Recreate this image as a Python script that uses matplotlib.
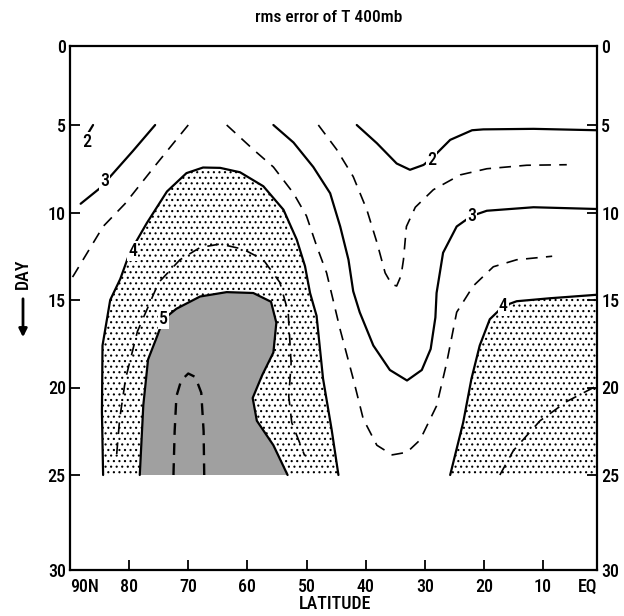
import numpy as np
import matplotlib
matplotlib.use("Agg")
import matplotlib.pyplot as plt

plt.rcParams["font.family"] = ["Roboto Condensed", "DejaVu Sans"]
plt.rcParams["font.weight"] = "medium"
plt.rcParams["hatch.linewidth"] = 0.8

# ---------------- data: isolines (lat in deg N, day) -------------
# solid isolines (integer values)
c2w_lat = [86.1, 86.9]
c2w_day = [5.0, 5.45]
c3w_lat = [75.6, 79.4, 83.2, 84.9, 88.2]
c3w_day = [5.0, 6.5, 7.95, 8.6, 9.5]
c4w_lat = [84.4, 84.6, 84.5, 83.2, 81.5, 79.9, 77.0, 73.6, 70.3, 67.5, 64.6, 61.25,
           57.3, 53.9, 51.65, 50.25, 49.4, 48.3, 47.2, 45.75, 44.6]
c4w_day = [25.0, 21.4, 17.6, 15.0, 13.8, 12.3, 10.6, 8.8, 7.75, 7.43, 7.45, 7.7,
           8.5, 9.84, 11.55, 13.07, 14.6, 15.9, 19.5, 22.4, 25.0]
c5_lat = [78.2, 77.6, 76.8, 75.3, 74.2, 72.0, 68.0, 63.5, 59.0, 56.0, 55.1, 55.6,
          57.5, 59.1, 58.4, 55.6, 53.2]
c5_day = [25.0, 21.0, 18.4, 17.1, 16.1, 15.5, 14.8, 14.55, 14.6, 15.1, 16.3, 18.0,
          19.3, 20.6, 21.9, 23.3, 25.0]
c3e_lat = [55.6, 52.2, 48.85, 46.0, 44.3, 42.9, 42.1, 41.0, 38.7, 35.9, 33.0, 30.5,
           29.0, 28.2, 28.0, 26.9, 24.6, 22.1, 19.5, 11.6, 0.0]
c3e_day = [5.0, 6.0, 7.4, 8.9, 10.8, 12.7, 14.5, 15.7, 17.6, 19.0, 19.6, 19.0,
           17.8, 16.0, 14.6, 12.3, 10.8, 10.2, 9.9, 9.7, 9.8]
c2e_lat = [41.5, 38.1, 34.75, 32.5, 30.2, 28.8, 25.7, 22.0, 20.1, 11.6, 0.0]
c2e_day = [5.0, 6.04, 7.2, 7.56, 7.28, 6.9, 5.85, 5.3, 5.25, 5.22, 5.3]
c4e_lat = [25.7, 23.5, 22.1, 20.7, 19.0, 16.7, 14.45, 8.7, 0.0]
c4e_day = [25.0, 22.0, 19.5, 17.6, 16.1, 15.35, 15.07, 14.9, 14.7]

# dashed isolines (half values)
d35w_lat = [70.0, 75.3, 80.7, 84.4, 89.4, 90.0]
d35w_day = [5.0, 7.2, 9.5, 10.8, 13.6, 13.9]
d35e_lat = [63.5, 59.0, 55.6, 52.2, 50.0, 48.3, 46.6, 45.5, 44.3, 42.1, 40.4, 38.1,
            35.5, 33.0, 30.8, 28.0, 26.3, 24.6, 21.8, 18.4, 14.45, 8.3]
d35e_day = [5.0, 6.4, 7.4, 8.9, 10.2, 11.9, 13.45, 15.0, 16.7, 19.5, 21.8, 23.3,
            23.85, 23.7, 23.0, 21.05, 18.6, 15.7, 14.2, 13.1, 12.7, 12.5]
d45w_lat = [82.1, 81.6, 80.6, 78.6, 75.0, 71.4, 68.0, 64.6, 60.7, 57.3, 54.5, 53.1,
            52.6, 53.0, 52.5, 50.3]
d45w_day = [23.8, 21.8, 19.5, 16.8, 14.0, 12.7, 12.0, 11.8, 12.1, 12.7, 14.0, 15.7,
            18.6, 20.5, 22.0, 23.9]
d55_lat = [72.5, 72.3, 72.0, 71.2, 70.0, 68.8, 67.8, 67.4, 67.3]
d55_day = [25.0, 22.5, 20.5, 19.6, 19.2, 19.4, 20.3, 22.5, 25.0]
d25_lat = [48.0, 44.9, 42.1, 39.8, 38.1, 36.7, 35.6, 34.75, 34.0, 33.6, 33.1, 31.6,
           28.55, 24.0, 19.5, 12.75, 5.6]
d25_day = [5.0, 6.4, 7.95, 9.84, 11.7, 13.45, 14.1, 14.2, 13.6, 12.7, 10.8, 9.7,
           8.7, 7.85, 7.5, 7.3, 7.27]
d45e_lat = [17.3, 15.0, 10.5, 5.6, 0.0]
d45e_day = [25.0, 23.6, 21.9, 20.8, 19.9]

# isoline labels
label_text = ["2", "3", "4", "5", "2", "3", "4"]
label_lat = [87.1, 84.2, 79.4, 74.2, 28.8, 22.1, 16.7]
label_day = [5.95, 8.2, 12.2, 16.1, 7.0, 10.2, 15.35]

END_DAY = 25.0
EQ_LAT = 0.0

lat_ticks = [90, 80, 70, 60, 50, 40, 30, 20, 10, 0]
lat_ticklabels = ["90N", "80", "70", "60", "50", "40", "30", "20", "10", "EQ"]
day_ticks = [0, 5, 10, 15, 20, 25, 30]

# ---------------- axis scales (follow the drawn axes of the original) ----------------
LAT_KNOTS = [0.0, 10.0, 90.0]
LAT_POS = [597.0, 543.0, 70.0]
DAY_KNOTS = [0.0, 5.0, 25.0, 30.0]
DAY_POS = [46.0, 125.0, 475.0, 570.0]


def lat_fwd(v):
    return -np.interp(np.asarray(v, float), LAT_KNOTS, LAT_POS)


def lat_inv(p):
    return np.interp(-np.asarray(p, float), LAT_POS[::-1], LAT_KNOTS[::-1])


def day_fwd(v):
    return np.interp(np.asarray(v, float), DAY_KNOTS, DAY_POS)


def day_inv(p):
    return np.interp(np.asarray(p, float), DAY_POS, DAY_KNOTS)


W, H = 624, 616
fig = plt.figure(figsize=(W / 100, H / 100), dpi=100)
ax = fig.add_axes([70 / W, 1 - 570 / H, (597 - 70) / W, (570 - 46) / H])
ax.set_xscale("function", functions=(lat_fwd, lat_inv))
ax.set_yscale("function", functions=(day_fwd, day_inv))
ax.set_xlim(90, 0)
ax.set_ylim(30, 0)

# ---------------- shading ----------------
ax.fill(c4w_lat, c4w_day, facecolor="none", edgecolor="black", linewidth=0,
        hatch="...", zorder=1)
ax.fill(np.append(c4e_lat, [EQ_LAT]), np.append(c4e_day, [END_DAY]),
        facecolor="none", edgecolor="black", linewidth=0, hatch="...", zorder=1)
ax.fill(c5_lat, c5_day, facecolor="#a0a0a0", edgecolor="none", zorder=2)

# ---------------- isolines ----------------
solid = dict(color="black", lw=1.6, solid_joinstyle="round", solid_capstyle="round", zorder=3)
dashed = dict(color="black", lw=1.2, dashes=(7, 5), zorder=3)
for la, da in [(c2w_lat, c2w_day), (c3w_lat, c3w_day), (c4w_lat, c4w_day),
               (c5_lat, c5_day), (c3e_lat, c3e_day), (c2e_lat, c2e_day),
               (c4e_lat, c4e_day)]:
    ax.plot(la, da, **solid)
for la, da in [(d35w_lat, d35w_day), (d35e_lat, d35e_day), (d45w_lat, d45w_day),
               (d25_lat, d25_day), (d45e_lat, d45e_day)]:
    ax.plot(la, da, **dashed)
ax.plot(d55_lat, d55_day, color="black", lw=1.7, dashes=(5, 3.5), zorder=3)

for t, la, da in zip(label_text, label_lat, label_day):
    ax.text(la, da, t, ha="center", va="center", fontsize=13, zorder=4,
            bbox=dict(boxstyle="square,pad=0.05", facecolor="white", edgecolor="none"))

# ---------------- axes decoration ----------------
for s in ax.spines.values():
    s.set_linewidth(1.6)
ax.set_xticks(lat_ticks)
ax.set_xticklabels(lat_ticklabels)
ax.get_xticklabels()[0].set_horizontalalignment("left")
ax.get_xticklabels()[-1].set_horizontalalignment("right")
ax.set_yticks(day_ticks)
ax.set_yticklabels([str(d) for d in day_ticks])
ax.minorticks_off()
ax.tick_params(axis="x", direction="in", length=7, width=1.3, labelsize=13, pad=6,
               top=False)
ax.tick_params(axis="y", direction="in", length=7, width=1.3, labelsize=13, pad=3,
               left=True, right=True, labelleft=True, labelright=True)

fig.text(329 / W, 1 - 18 / H, "rms error of T 400mb", ha="center", va="center",
         fontsize=12.5)
fig.text(335 / W, 1 - 604 / H, "LATITUDE", ha="center", va="center", fontsize=13)
fig.text(23 / W, 1 - 274 / H, "DAY", ha="center", va="center", rotation=90,
         fontsize=13)
fig.add_artist(matplotlib.patches.FancyArrowPatch(
    (23 / W, 1 - 296 / H), (23 / W, 1 - 340 / H), transform=fig.transFigure,
    arrowstyle="-|>", mutation_scale=12, lw=2.0, color="black"))

fig.savefig("out.png", dpi=100)
